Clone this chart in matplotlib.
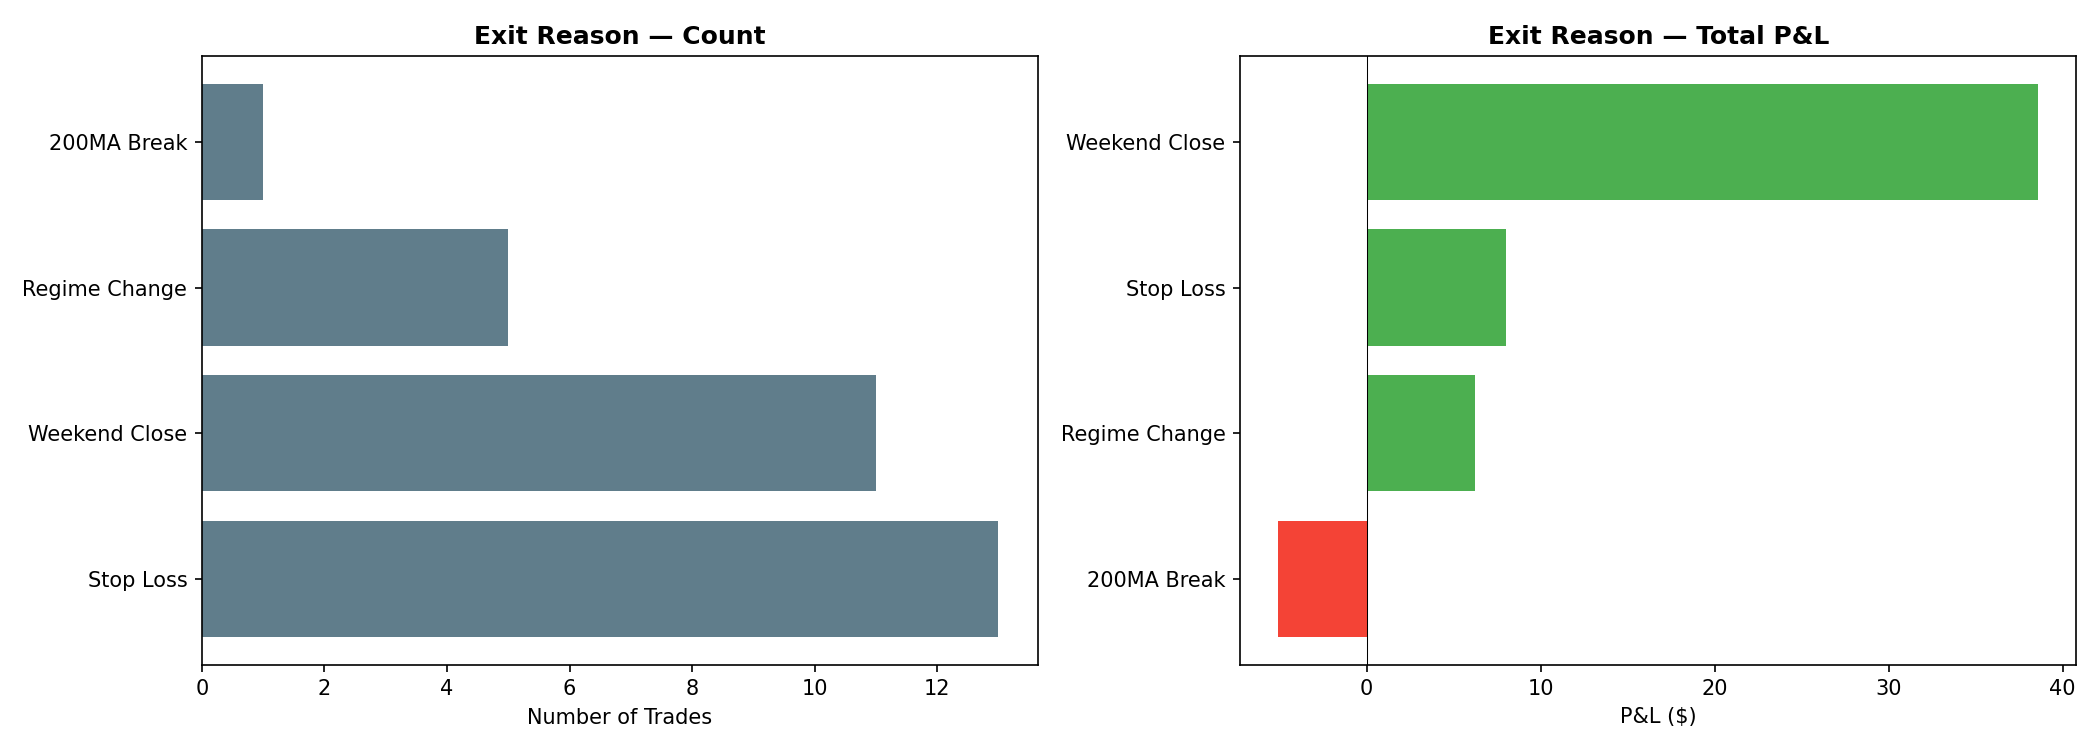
import matplotlib
matplotlib.use("Agg")
import matplotlib.pyplot as plt

count_reasons = ["Stop Loss", "Weekend Close", "Regime Change", "200MA Break"]
count_values = [13, 11, 5, 1]

pnl_reasons = ["200MA Break", "Regime Change", "Stop Loss", "Weekend Close"]
pnl_values = [-5.08, 6.26, 8.0, 38.6]

fig, axes = plt.subplots(1, 2, figsize=(14, 5), dpi=150)

ax = axes[0]
ax.barh(count_reasons, count_values, color="#607D8B")
ax.set_title("Exit Reason — Count", fontweight="bold", fontsize=12)
ax.set_xlabel("Number of Trades")

ax = axes[1]
colors = ["#4CAF50" if v >= 0 else "#F44336" for v in pnl_values]
ax.barh(pnl_reasons, pnl_values, color=colors)
ax.axvline(0, color="black", linewidth=0.5)
ax.set_title("Exit Reason — Total P&L", fontweight="bold", fontsize=12)
ax.set_xlabel("P&L ($)")

fig.tight_layout()
fig.subplots_adjust(top=0.925)
fig.savefig("out.png", dpi=150)
